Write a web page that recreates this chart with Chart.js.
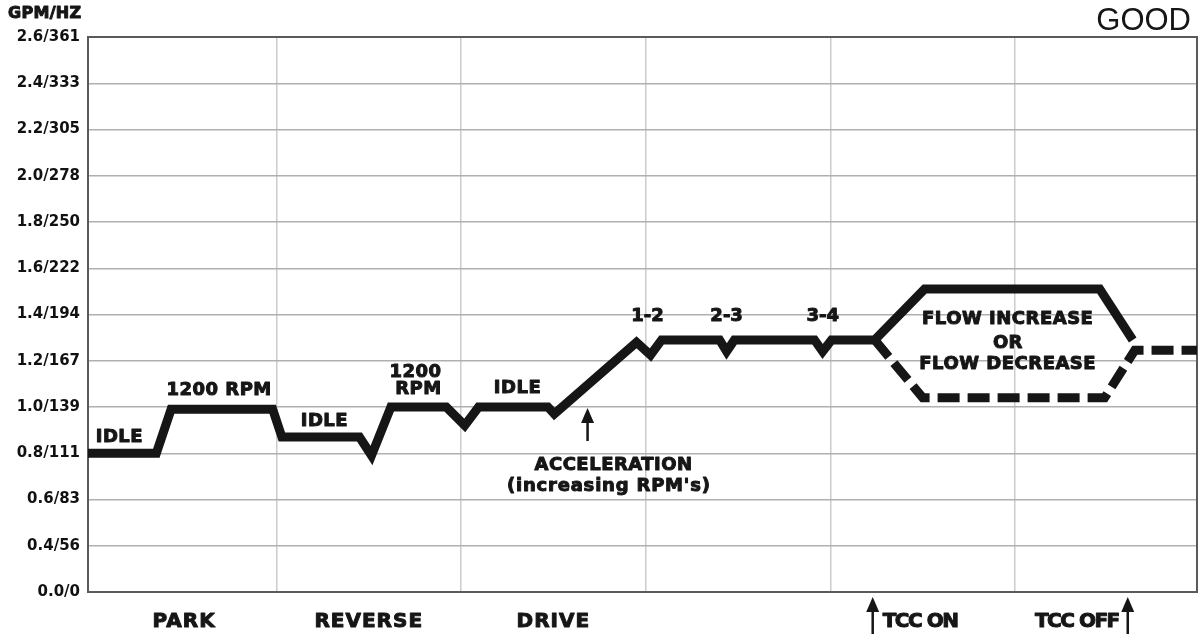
<!DOCTYPE html>
<html>
<head>
<meta charset="utf-8">
<script src="https://cdn.jsdelivr.net/npm/chart.js@4.4.1/dist/chart.umd.min.js"></script>
<style>
  html, body { margin: 0; padding: 0; background: #fff; }
  #wrap { width: 1199px; height: 634px; position: relative; }
</style>
</head>
<body>
<div id="wrap"><canvas id="flowChart"></canvas></div>
<script>
// operating ranges shown under the chart
const ranges = ['PARK', 'REVERSE', 'DRIVE'];

// y axis: bottom tick is labelled 0.0/0 though it sits one step below 0.4
const yTickValues = [0.2, 0.4, 0.6, 0.8, 1.0, 1.2, 1.4, 1.6, 1.8, 2.0, 2.2, 2.4, 2.6];
const yTickLabels = ['0.0/0', '0.4/56', '0.6/83', '0.8/111', '1.0/139', '1.2/167', '1.4/194',
                     '1.6/222', '1.8/250', '2.0/278', '2.2/305', '2.4/333', '2.6/361'];

// main flow trace (solid)
const solidX = [-0.02, 0.35, 0.43, 0.98, 1.03, 1.45, 1.515, 1.62, 1.92, 2.02, 2.095, 2.47, 2.505,
                2.95, 3.026, 3.086, 3.40, 3.438, 3.48, 3.914, 3.958, 4.006, 4.24, 4.51, 5.458, 5.637];
const solidY = [0.80, 0.80, 0.99, 0.99, 0.87, 0.87, 0.79, 1.00, 1.00, 0.92, 1.00, 1.00, 0.97,
                1.28, 1.225, 1.29, 1.29, 1.24, 1.29, 1.29, 1.24, 1.29, 1.29, 1.51, 1.51, 1.29];

// alternative trace after TCC on (dashed)
const dashX = [4.24, 4.50, 5.485, 5.648, 5.985];
const dashY = [1.29, 1.04, 1.04, 1.245, 1.245];

const INK = '#161616';
const BOLD = '"DejaVu Sans", sans-serif';

function pts(xs, ys) {
    return xs.map(function(x, i) { return { x: x, y: ys[i] }; });
}

function drawArrow(ctx, x, tipY, baseY) {
    ctx.save();
    ctx.strokeStyle = INK;
    ctx.fillStyle = INK;
    ctx.lineWidth = 2.5;
    ctx.beginPath();
    ctx.moveTo(x, tipY + 10);
    ctx.lineTo(x, baseY);
    ctx.stroke();
    ctx.beginPath();
    ctx.moveTo(x, tipY);
    ctx.lineTo(x - 6.5, tipY + 15);
    ctx.lineTo(x + 6.5, tipY + 15);
    ctx.closePath();
    ctx.fill();
    ctx.restore();
}

// heavy label: bold text with a thin outline to thicken strokes
function label(ctx, text, x, y, size, align, spacing) {
    ctx.font = 'bold ' + size + 'px ' + BOLD;
    ctx.textAlign = align || 'center';
    ctx.textBaseline = 'middle';
    if ('letterSpacing' in ctx) ctx.letterSpacing = (spacing || 0) + 'px';
    ctx.lineWidth = 1;
    ctx.lineJoin = 'round';
    ctx.strokeStyle = INK;
    ctx.fillText(text, x, y);
    ctx.strokeText(text, x, y);
}

// box around the plot area
const frame = {
    id: 'frame',
    beforeDatasetsDraw: function(chart) {
        const a = chart.chartArea, ctx = chart.ctx;
        ctx.save();
        ctx.strokeStyle = '#5a5a5a';
        ctx.lineWidth = 2;
        ctx.strokeRect(a.left, a.top, a.right - a.left, a.bottom - a.top);
        ctx.restore();
    }
};

// text notes and arrows
const notes = {
    id: 'notes',
    afterDatasetsDraw: function(chart) {
        const ctx = chart.ctx, xs = chart.scales.x, ys = chart.scales.y, a = chart.chartArea;
        const px = function(v) { return xs.getPixelForValue(v); };
        const py = function(v) { return ys.getPixelForValue(v); };
        ctx.save();
        ctx.fillStyle = INK;

        label(ctx, 'IDLE', px(0.15), py(0.87), 18, 'center', 0.5);
        label(ctx, '1200 RPM', px(0.69), py(1.073), 18, 'center', 0.5);
        label(ctx, 'IDLE', px(1.26), py(0.939), 18, 'center', 0.5);
        label(ctx, '1200', px(1.753), py(1.151), 18, 'center', 0.5);
        label(ctx, 'RPM', px(1.769), py(1.078), 18, 'center', 0.5);
        label(ctx, 'IDLE', px(2.306), py(1.082), 18, 'center', 0.5);
        label(ctx, 'ACCELERATION', px(2.826), py(0.749), 18, 'center', 0.5);
        label(ctx, "(increasing RPM's)", px(2.80), py(0.658), 18, 'center', 0.8);
        label(ctx, '1-2', px(3.01), py(1.394), 18);
        label(ctx, '2-3', px(3.438), py(1.394), 18);
        label(ctx, '3-4', px(3.958), py(1.394), 18);
        label(ctx, 'FLOW INCREASE', px(4.96), py(1.381), 18, 'center', 0.5);
        label(ctx, 'OR', px(4.96), py(1.277), 18);
        label(ctx, 'FLOW DECREASE', px(4.96), py(1.186), 18, 'center', 0.5);

        drawArrow(ctx, px(2.685), py(0.996), py(0.853));

        // range names under the axis
        ranges.forEach(function(r, i) {
            label(ctx, r, px(i + 0.5), a.bottom + 30, 20, 'center', 1);
        });

        const onX = px(4.229), offX = px(5.61);
        drawArrow(ctx, onX, a.bottom + 5, 634);
        drawArrow(ctx, offX, a.bottom + 5, 634);
        label(ctx, 'TCC ON', onX + 10, a.bottom + 30, 20, 'left', -1.5);
        label(ctx, 'TCC OFF', offX - 9, a.bottom + 30, 20, 'right', -1.5);

        // titles
        label(ctx, 'GPM/HZ', 8, 14, 16, 'left', 0.3);
        ctx.font = '31px "Liberation Sans", Arial, sans-serif';
        ctx.textAlign = 'right';
        if ('letterSpacing' in ctx) ctx.letterSpacing = '0px';
        ctx.fillText('GOOD', 1191, 21);
        ctx.restore();
    }
};

document.addEventListener('DOMContentLoaded', function() {
    const ctx = document.getElementById('flowChart');

    new Chart(ctx, {
        type: 'line',
        data: {
            datasets: [{
                data: pts(solidX, solidY),
                borderColor: INK,
                borderWidth: 9,
                borderJoinStyle: 'miter',
                borderCapStyle: 'butt',
                pointRadius: 0,
                fill: false,
                tension: 0
            }, {
                data: pts(dashX, dashY),
                borderColor: INK,
                borderWidth: 9,
                borderDash: [22, 8],
                borderJoinStyle: 'miter',
                borderCapStyle: 'butt',
                pointRadius: 0,
                fill: false,
                tension: 0
            }]
        },
        options: {
            responsive: true,
            maintainAspectRatio: false,
            animation: false,
            layout: { padding: { top: 37, right: 2, left: 0, bottom: 0 } },
            plugins: {
                legend: { display: false },
                tooltip: { enabled: false }
            },
            scales: {
                x: {
                    type: 'linear',
                    min: -0.02,
                    max: 5.985,
                    afterBuildTicks: function(scale) {
                        scale.ticks = [1, 2, 3, 4, 5].map(function(v) { return { value: v }; });
                    },
                    afterFit: function(scale) { scale.height = 42; },
                    ticks: { display: false },
                    grid: { color: '#cccccc', lineWidth: 1.5, drawTicks: false },
                    border: { display: false }
                },
                y: {
                    min: 0.2,
                    max: 2.6,
                    afterBuildTicks: function(scale) {
                        scale.ticks = yTickValues.map(function(v) { return { value: v }; });
                    },
                    afterFit: function(scale) { scale.width = 88; },
                    ticks: {
                        padding: 8,
                        color: '#111111',
                        font: { family: BOLD, size: 15, weight: 'bold' },
                        callback: function(value, index) {
                            return yTickLabels[index];
                        }
                    },
                    grid: { color: '#b0b0b0', lineWidth: 1.5, drawTicks: false },
                    border: { display: false }
                }
            }
        },
        plugins: [frame, notes]
    });
});
</script>
</body>
</html>
